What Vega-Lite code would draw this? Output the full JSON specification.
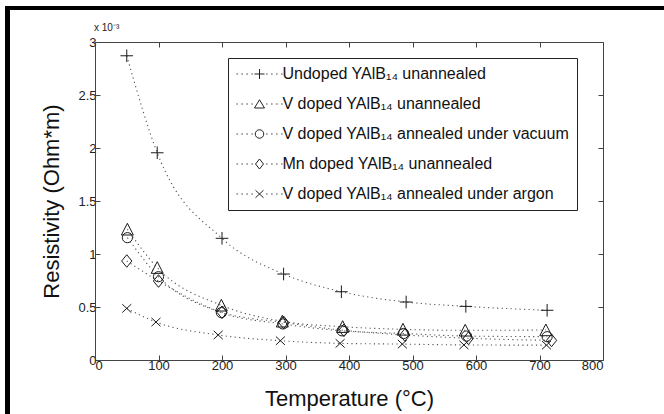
{
  "$schema": "https://vega.github.io/schema/vega-lite/v6.json",
  "padding": {"left": 5, "top": 6, "right": 0, "bottom": 0},
  "background": "white",
  "columns": 1,
  "bounds": "flush",
  "spacing": 0,
  "datasets": {
    "res": [
      {"sample": "Undoped YAlB₁₄ unannealed", "temperature": 50, "resistivity": 0.002870},
      {"sample": "Undoped YAlB₁₄ unannealed", "temperature": 98, "resistivity": 0.001955},
      {"sample": "Undoped YAlB₁₄ unannealed", "temperature": 200, "resistivity": 0.001148},
      {"sample": "Undoped YAlB₁₄ unannealed", "temperature": 297, "resistivity": 0.000811},
      {"sample": "Undoped YAlB₁₄ unannealed", "temperature": 388, "resistivity": 0.000644},
      {"sample": "Undoped YAlB₁₄ unannealed", "temperature": 490, "resistivity": 0.000547},
      {"sample": "Undoped YAlB₁₄ unannealed", "temperature": 584, "resistivity": 0.000506},
      {"sample": "Undoped YAlB₁₄ unannealed", "temperature": 712, "resistivity": 0.000469},
      {"sample": "V doped YAlB₁₄ unannealed", "temperature": 51, "resistivity": 0.001233},
      {"sample": "V doped YAlB₁₄ unannealed", "temperature": 98, "resistivity": 0.000871},
      {"sample": "V doped YAlB₁₄ unannealed", "temperature": 199, "resistivity": 0.000516},
      {"sample": "V doped YAlB₁₄ unannealed", "temperature": 295, "resistivity": 0.000365},
      {"sample": "V doped YAlB₁₄ unannealed", "temperature": 390, "resistivity": 0.000314},
      {"sample": "V doped YAlB₁₄ unannealed", "temperature": 485, "resistivity": 0.000289},
      {"sample": "V doped YAlB₁₄ unannealed", "temperature": 583, "resistivity": 0.000280},
      {"sample": "V doped YAlB₁₄ unannealed", "temperature": 710, "resistivity": 0.000283},
      {"sample": "V doped YAlB₁₄ annealed under vacuum", "temperature": 51, "resistivity": 0.001154},
      {"sample": "V doped YAlB₁₄ annealed under vacuum", "temperature": 100, "resistivity": 0.000786},
      {"sample": "V doped YAlB₁₄ annealed under vacuum", "temperature": 199, "resistivity": 0.000447},
      {"sample": "V doped YAlB₁₄ annealed under vacuum", "temperature": 296, "resistivity": 0.000340},
      {"sample": "V doped YAlB₁₄ annealed under vacuum", "temperature": 389, "resistivity": 0.000275},
      {"sample": "V doped YAlB₁₄ annealed under vacuum", "temperature": 486, "resistivity": 0.000250},
      {"sample": "V doped YAlB₁₄ annealed under vacuum", "temperature": 585, "resistivity": 0.000226},
      {"sample": "V doped YAlB₁₄ annealed under vacuum", "temperature": 712, "resistivity": 0.000220},
      {"sample": "Mn doped YAlB₁₄ unannealed", "temperature": 50, "resistivity": 0.000934},
      {"sample": "Mn doped YAlB₁₄ unannealed", "temperature": 100, "resistivity": 0.000745},
      {"sample": "Mn doped YAlB₁₄ unannealed", "temperature": 200, "resistivity": 0.000450},
      {"sample": "Mn doped YAlB₁₄ unannealed", "temperature": 297, "resistivity": 0.000355},
      {"sample": "Mn doped YAlB₁₄ unannealed", "temperature": 392, "resistivity": 0.000280},
      {"sample": "Mn doped YAlB₁₄ unannealed", "temperature": 488, "resistivity": 0.000236},
      {"sample": "Mn doped YAlB₁₄ unannealed", "temperature": 588, "resistivity": 0.000205},
      {"sample": "Mn doped YAlB₁₄ unannealed", "temperature": 719, "resistivity": 0.000185},
      {"sample": "V doped YAlB₁₄ annealed under argon", "temperature": 50, "resistivity": 0.000487},
      {"sample": "V doped YAlB₁₄ annealed under argon", "temperature": 96, "resistivity": 0.000358},
      {"sample": "V doped YAlB₁₄ annealed under argon", "temperature": 194, "resistivity": 0.000236},
      {"sample": "V doped YAlB₁₄ annealed under argon", "temperature": 292, "resistivity": 0.000182},
      {"sample": "V doped YAlB₁₄ annealed under argon", "temperature": 386, "resistivity": 0.000157},
      {"sample": "V doped YAlB₁₄ annealed under argon", "temperature": 484, "resistivity": 0.000150},
      {"sample": "V doped YAlB₁₄ annealed under argon", "temperature": 581, "resistivity": 0.000142},
      {"sample": "V doped YAlB₁₄ annealed under argon", "temperature": 711, "resistivity": 0.000140}
    ]
  },
  "config": {
    "view": {"stroke": null},
    "axis": {
      "labelFont": "Liberation Sans", "labelFontSize": 13, "labelColor": "#222",
      "titleFont": "Liberation Sans", "titleFontSize": 22, "titleFontWeight": "normal", "titleColor": "#111",
      "domainColor": "#444", "tickColor": "#444", "grid": false, "domainWidth": 1, "tickWidth": 1
    }
  },
  "concat": [
    {
      "width": 659, "height": 4,
      "data": {"values": []},
      "mark": "point",
      "view": {"fill": "black", "stroke": null}
    },
    {
      "columns": 2,
      "bounds": "flush",
      "spacing": {"row": 0, "column": 85},
      "concat": [
        {
          "width": 5, "height": 32,
          "data": {"values": []},
          "mark": "point",
          "view": {"fill": "black", "stroke": null}
        },
        {
          "width": 508, "height": 32,
          "data": {"values": []},
          "mark": "point",
          "view": {"stroke": null}
        },
        {
          "width": 5, "height": 372,
          "data": {"values": []},
          "mark": "point",
          "view": {"fill": "black", "stroke": null}
        },
        {
          "width": 508,
          "height": 318,
          "title": {"text": "x 10⁻³", "anchor": "start", "frame": "group", "fontSize": 10, "font": "Liberation Sans", "fontWeight": "normal", "offset": 3, "dx": -1, "color": "#222"},
          "data": {"name": "res"},
          "layer": [
            {
              "mark": {"type": "line", "strokeDash": [1.2, 3.3], "strokeWidth": 1.1, "color": "#555", "interpolate": "monotone"},
              "encoding": {
                "x": {"field": "temperature", "type": "quantitative", "scale": {"domain": [0, 800], "nice": false},
                      "axis": {"orient": "bottom", "values": [0,100,200,300,400,500,600,700,800], "title": "Temperature (°C)", "tickSize": -5, "labelPadding": 4, "titlePadding": 16}},
                "y": {"field": "resistivity", "type": "quantitative", "scale": {"domain": [0, 0.003], "nice": false},
                      "axis": {"orient": "left", "values": [0,0.0005,0.001,0.0015,0.002,0.0025,0.003], "labelExpr": "format(datum.value*1000, '~g')", "title": "Resistivity (Ohm*m)", "tickSize": -5, "labelPadding": 4, "titlePadding": 14}},
                "detail": {"field": "sample", "type": "nominal"}
              }
            },
            {
              "mark": {"type": "point", "filled": false, "strokeWidth": 1, "color": "#1a1a1a", "size": 144, "opacity": 1},
              "encoding": {
                "x": {"field": "temperature", "type": "quantitative", "axis": null},
                "y": {"field": "resistivity", "type": "quantitative", "axis": null},
                "shape": {"field": "sample", "type": "nominal", "legend": null,
                  "scale": {
                    "domain": ["Undoped YAlB₁₄ unannealed", "V doped YAlB₁₄ unannealed", "V doped YAlB₁₄ annealed under vacuum", "Mn doped YAlB₁₄ unannealed", "V doped YAlB₁₄ annealed under argon"],
                    "range": [
                      "M-1.05,0H1.05M0,-1.05V1.05",
                      "M0,-1L1,0.95L-1,0.95Z",
                      "M0.85,0A0.85,0.85,0,1,1,-0.85,0A0.85,0.85,0,1,1,0.85,0Z",
                      "M0,-1.05L0.85,0L0,1.05L-0.85,0Z",
                      "M-0.75,-0.7L0.75,0.7M-0.75,0.7L0.75,-0.7"
                    ]
                  }
                }
              }
            },
            {
              "mark": {"type": "point", "filled": false, "strokeWidth": 1, "color": "#1a1a1a", "size": 100, "opacity": 0},
              "encoding": {
                "x": {"field": "temperature", "type": "quantitative",
                      "axis": {"orient": "top", "values": [0,100,200,300,400,500,600,700,800], "labels": false, "title": null, "tickSize": -5}},
                "y": {"field": "resistivity", "type": "quantitative",
                      "axis": {"orient": "right", "values": [0,0.0005,0.001,0.0015,0.002,0.0025,0.003], "labels": false, "title": null, "tickSize": -5}},
                "shape": {"field": "sample", "type": "nominal",
                  "scale": {
                    "domain": ["Undoped YAlB₁₄ unannealed", "V doped YAlB₁₄ unannealed", "V doped YAlB₁₄ annealed under vacuum", "Mn doped YAlB₁₄ unannealed", "V doped YAlB₁₄ annealed under argon"],
                    "range": [
                      "M-1,0H1M0,-1V1M-4.6,0h0.25M-3.6,0h0.25M-2.6,0h0.25M-1.6,0h0.25M1.35,0h0.25M2.35,0h0.25M3.35,0h0.25M4.35,0h0.25",
                      "M0,-0.85L1,0.8L-1,0.8ZM-4.6,0h0.25M-3.6,0h0.25M-2.6,0h0.25M-1.6,0h0.25M1.35,0h0.25M2.35,0h0.25M3.35,0h0.25M4.35,0h0.25",
                      "M0.85,0A0.85,0.85,0,1,1,-0.85,0A0.85,0.85,0,1,1,0.85,0ZM-4.6,0h0.25M-3.6,0h0.25M-2.6,0h0.25M-1.6,0h0.25M1.35,0h0.25M2.35,0h0.25M3.35,0h0.25M4.35,0h0.25",
                      "M0,-1L0.8,0L0,1L-0.8,0ZM-4.6,0h0.25M-3.6,0h0.25M-2.6,0h0.25M-1.6,0h0.25M1.35,0h0.25M2.35,0h0.25M3.35,0h0.25M4.35,0h0.25",
                      "M-0.8,-0.75L0.8,0.75M-0.8,0.75L0.8,-0.75M-4.6,0h0.25M-3.6,0h0.25M-2.6,0h0.25M-1.6,0h0.25M1.35,0h0.25M2.35,0h0.25M3.35,0h0.25M4.35,0h0.25"
                    ]
                  },
                  "legend": {
                    "orient": "none", "legendX": 133, "legendY": 16, "title": null, "direction": "vertical",
                    "padding": 8, "fillColor": "white", "strokeColor": "#222",
                    "labelFont": "Liberation Sans", "labelFontSize": 16, "labelColor": "#111", "labelLimit": 400,
                    "symbolSize": 100, "symbolStrokeWidth": 1, "symbolOffset": 15.5, "labelOffset": 15, "rowPadding": 14,
                    "symbolOpacity": 1, "symbolStrokeColor": "#222", "symbolFillColor": "transparent"
                  }
                }
              }
            }
          ],
          "resolve": {"scale": {"shape": "independent"}, "axis": {"x": "independent", "y": "independent"}}
        }
      ]
    }
  ]
}
